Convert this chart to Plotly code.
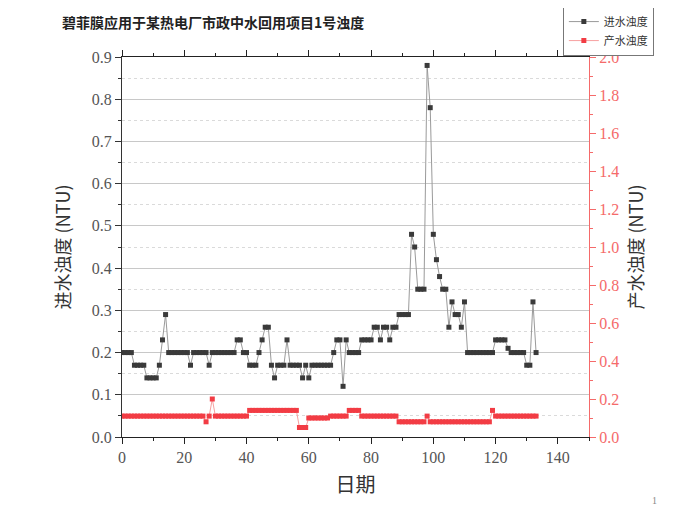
import plotly.graph_objects as go

days = list(range(134))

inflow = [
    0.20, 0.20, 0.20, 0.20, 0.17, 0.17, 0.17, 0.17, 0.14, 0.14,
    0.14, 0.14, 0.17, 0.23, 0.29, 0.20, 0.20, 0.20, 0.20, 0.20,
    0.20, 0.20, 0.17, 0.20, 0.20, 0.20, 0.20, 0.20, 0.17, 0.20,
    0.20, 0.20, 0.20, 0.20, 0.20, 0.20, 0.20, 0.23, 0.23, 0.20,
    0.20, 0.17, 0.17, 0.17, 0.20, 0.23, 0.26, 0.26, 0.17, 0.14,
    0.17, 0.17, 0.17, 0.23, 0.17, 0.17, 0.17, 0.17, 0.14, 0.17,
    0.14, 0.17, 0.17, 0.17, 0.17, 0.17, 0.17, 0.17, 0.20, 0.23,
    0.23, 0.12, 0.23, 0.20, 0.20, 0.20, 0.20, 0.23, 0.23, 0.23,
    0.23, 0.26, 0.26, 0.23, 0.26, 0.26, 0.23, 0.26, 0.26, 0.29,
    0.29, 0.29, 0.29, 0.48, 0.45, 0.35, 0.35, 0.35, 0.88, 0.78,
    0.48, 0.42, 0.38, 0.35, 0.35, 0.26, 0.32, 0.29, 0.29, 0.26,
    0.32, 0.20, 0.20, 0.20, 0.20, 0.20, 0.20, 0.20, 0.20, 0.20,
    0.23, 0.23, 0.23, 0.23, 0.21, 0.20, 0.20, 0.20, 0.20, 0.20,
    0.17, 0.17, 0.32, 0.20,
]

product = [
    0.11, 0.11, 0.11, 0.11, 0.11, 0.11, 0.11, 0.11, 0.11, 0.11,
    0.11, 0.11, 0.11, 0.11, 0.11, 0.11, 0.11, 0.11, 0.11, 0.11,
    0.11, 0.11, 0.11, 0.11, 0.11, 0.11, 0.11, 0.08, 0.11, 0.20,
    0.11, 0.11, 0.11, 0.11, 0.11, 0.11, 0.11, 0.11, 0.11, 0.11,
    0.11, 0.14, 0.14, 0.14, 0.14, 0.14, 0.14, 0.14, 0.14, 0.14,
    0.14, 0.14, 0.14, 0.14, 0.14, 0.14, 0.14, 0.05, 0.05, 0.05,
    0.10, 0.10, 0.10, 0.10, 0.10, 0.10, 0.10, 0.11, 0.11, 0.11,
    0.11, 0.11, 0.11, 0.14, 0.14, 0.14, 0.14, 0.11, 0.11, 0.11,
    0.11, 0.11, 0.11, 0.11, 0.11, 0.11, 0.11, 0.11, 0.11, 0.08,
    0.08, 0.08, 0.08, 0.08, 0.08, 0.08, 0.08, 0.08, 0.11, 0.08,
    0.08, 0.08, 0.08, 0.08, 0.08, 0.08, 0.08, 0.08, 0.08, 0.08,
    0.08, 0.08, 0.08, 0.08, 0.08, 0.08, 0.08, 0.08, 0.08, 0.14,
    0.11, 0.11, 0.11, 0.11, 0.11, 0.11, 0.11, 0.11, 0.11, 0.11,
    0.11, 0.11, 0.11, 0.11,
]

title_text = "碧菲膜应用于某热电厂市政中水回用项目1号浊度"
name_in = "进水浊度"
name_out = "产水浊度"
ytitle_left = "进水浊度 (NTU)"
ytitle_right = "产水浊度 (NTU)"
xtitle = "日期"

CJK = "Noto Sans CJK SC"
SERIF = "Liberation Serif"
RED = "#f23c44"
RED_AX = "#f56a6a"

fig = go.Figure()
fig.add_trace(go.Scatter(
    x=days, y=inflow, name=name_in, mode="lines+markers",
    line=dict(color="#9a9a9a", width=1),
    marker=dict(symbol="square", size=5, color="#3a3a3a"),
))
fig.add_trace(go.Scatter(
    x=days, y=product, name=name_out, mode="lines+markers", yaxis="y2",
    line=dict(color="#f7a0a0", width=1),
    marker=dict(symbol="square", size=5, color=RED),
))

fig.update_layout(
    width=700, height=524,
    margin=dict(l=114, r=119, t=49, b=95, autoexpand=False),
    paper_bgcolor="white", plot_bgcolor="white",
    showlegend=True,
    legend=dict(
        x=0.944, y=1.134, xanchor="left", yanchor="top",
        bordercolor="#777", borderwidth=1, bgcolor="white",
        font=dict(family=CJK, size=11, color="#333"),
        tracegroupgap=0, itemwidth=30,
    ),
    xaxis=dict(
        range=[0, 150], dtick=20, tick0=0,
        showline=True, linecolor="#222", linewidth=1, mirror="ticks",
        ticks="outside", ticklen=6, tickcolor="#222",
        minor=dict(dtick=10, ticks="outside", ticklen=3, tickcolor="#222"),
        showgrid=False, zeroline=False,
        tickfont=dict(family=SERIF, size=16, color="#555"),
        title=dict(text=xtitle, font=dict(family=CJK, size=20, color="#333"), standoff=12),
        automargin=False,
    ),
    yaxis=dict(
        range=[0, 0.9], dtick=0.1, tick0=0, tickformat=".1f",
        showline=True, linecolor="#333", linewidth=1,
        ticks="outside", ticklen=6, tickcolor="#333",
        minor=dict(dtick=0.05, ticks="outside", ticklen=3, tickcolor="#333",
                   showgrid=True, gridcolor="#dadada", griddash="dot", gridwidth=1),
        showgrid=True, gridcolor="#c8c8c8", gridwidth=1,
        zeroline=False,
        tickfont=dict(family=SERIF, size=16, color="#555"),
        title=dict(text=ytitle_left, font=dict(family=CJK, size=18, color="#333"), standoff=16),
        automargin=False,
    ),
    yaxis2=dict(
        range=[0, 2.0], dtick=0.2, tick0=0, tickformat=".1f",
        overlaying="y", side="right",
        showline=True, linecolor=RED_AX, linewidth=1,
        ticks="outside", ticklen=6, tickcolor=RED_AX,
        minor=dict(dtick=0.1, ticks="outside", ticklen=3, tickcolor=RED_AX, showgrid=False),
        showgrid=False, zeroline=False,
        tickfont=dict(family=SERIF, size=16, color=RED_AX),
        title=dict(text=ytitle_right, font=dict(family=CJK, size=18, color="#333"), standoff=12),
        automargin=False,
    ),
    annotations=[
        dict(text=title_text, xref="paper", yref="paper", x=-0.133, y=1.092,
             xanchor="left", yanchor="middle", showarrow=False,
             font=dict(family=CJK, size=14, color="#222", weight="bold")),
        dict(text="1", xref="paper", yref="paper", x=1.141, y=-0.166,
             xanchor="center", yanchor="middle", showarrow=False,
             font=dict(family=SERIF, size=10, color="#888")),
    ],
)

fig.write_html("out.html")
